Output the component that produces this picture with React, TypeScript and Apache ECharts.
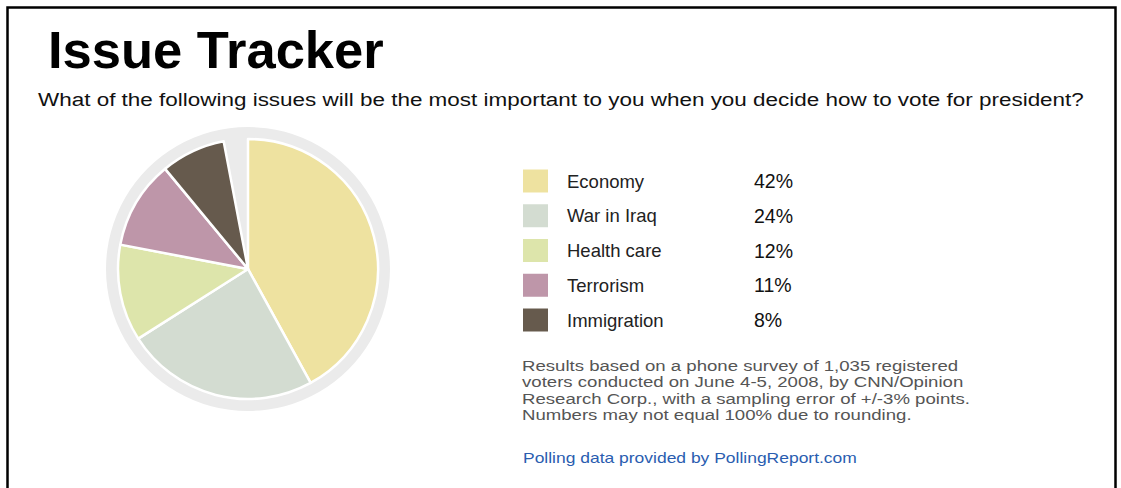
import React, { useEffect, useRef } from "react";
import * as echarts from "echarts";

const categories = ["Economy", "War in Iraq", "Health care", "Terrorism", "Immigration"];
const values = [42, 24, 12, 11, 8];
const sliceColors = ["#EEE2A0", "#D3DCD1", "#DDE5AB", "#BE96A9", "#665A4D"];
const titleText = "Issue Tracker";
const questionText =
  "What of the following issues will be the most important to you when you decide how to vote for president?";
const noteLines = [
  "Results based on a phone survey of 1,035 registered",
  "voters conducted on June 4-5, 2008, by CNN/Opinion",
  "Research Corp., with a sampling error of +/-3% points.",
  "Numbers may not equal 100% due to rounding.",
];
const sourceText = "Polling data provided by PollingReport.com";

const FONT = "'Liberation Sans', Arial, Helvetica, sans-serif";

export default function App() {
  const ref = useRef<HTMLDivElement>(null);

  useEffect(() => {
    document.body.style.margin = "0";
    const chart = echarts.init(ref.current as HTMLDivElement, null, { renderer: "svg" });
    const total = values.reduce((a, b) => a + b, 0);
    const unreported = Math.max(0, 100 - total);
    const valueByName: Record<string, number> = {};
    categories.forEach((c, i) => (valueByName[c] = values[i]));

    const pieData: any[] = categories.map((c, i) => ({
      name: c,
      value: values[i],
      itemStyle: { color: sliceColors[i] },
    }));
    pieData.push({
      name: "unreported",
      value: unreported,
      itemStyle: { color: "rgba(0,0,0,0)", borderWidth: 0 },
    });

    chart.setOption({
      animation: false,
      backgroundColor: "#ffffff",
      legend: {
        data: categories,
        orient: "vertical",
        left: 521,
        top: 167.5,
        padding: 0,
        itemWidth: 27,
        itemHeight: 25,
        itemGap: 7.75,
        icon: "rect",
        selectedMode: false,
        formatter: (name: string) => `{s| }{n|${name}}{v|${valueByName[name]}%}`,
        textStyle: {
          fontFamily: FONT,
          lineHeight: 25,
          rich: {
            s: { width: 13, fontSize: 18, lineHeight: 25, fontFamily: FONT },
            n: { width: 187, fontSize: 18.5, lineHeight: 25, color: "#222", fontFamily: FONT },
            v: { fontSize: 19.5, lineHeight: 25, color: "#111", fontFamily: FONT },
          },
        },
      },
      series: [
        {
          type: "pie",
          silent: true,
          center: [248, 269],
          radius: [0, 142],
          label: { show: false },
          labelLine: { show: false },
          itemStyle: { color: "#EBEBEB" },
          z: 1,
          data: [{ name: "background", value: 1 }],
        },
        {
          type: "pie",
          silent: true,
          center: [248, 269],
          radius: [0, 130],
          startAngle: 90,
          clockwise: true,
          label: { show: false },
          labelLine: { show: false },
          itemStyle: { borderColor: "#ffffff", borderWidth: 2.5 },
          z: 2,
          data: pieData,
        },
      ],
      graphic: [
        {
          type: "rect",
          shape: { x: 7.5, y: 7.5, width: 1108, height: 600 },
          style: { fill: "none", stroke: "#000", lineWidth: 2.5 },
          silent: true,
        },
        {
          type: "text",
          x: 48,
          y: 49,
          style: {
            text: titleText,
            font: `bold 52.5px ${FONT}`,
            fill: "#000",
            verticalAlign: "middle",
          },
        },
        {
          type: "text",
          x: 38,
          y: 100,
          scaleX: 1.248,
          style: {
            text: questionText,
            font: `18px ${FONT}`,
            fill: "#111",
            verticalAlign: "middle",
          },
        },
        {
          type: "text",
          x: 522,
          y: 357.5,
          scaleX: 1.2,
          style: {
            text: noteLines.join("\n"),
            font: `15.5px ${FONT}`,
            lineHeight: 16.5,
            fill: "#555",
            verticalAlign: "top",
          },
        },
        {
          type: "text",
          x: 523,
          y: 457,
          scaleX: 1.15,
          style: {
            text: sourceText,
            font: `15.2px ${FONT}`,
            fill: "#2A5DB0",
            verticalAlign: "middle",
          },
        },
      ],
    });
    return () => chart.dispose();
  }, []);

  return <div ref={ref} style={{ width: 1121, height: 488 }} />;
}
